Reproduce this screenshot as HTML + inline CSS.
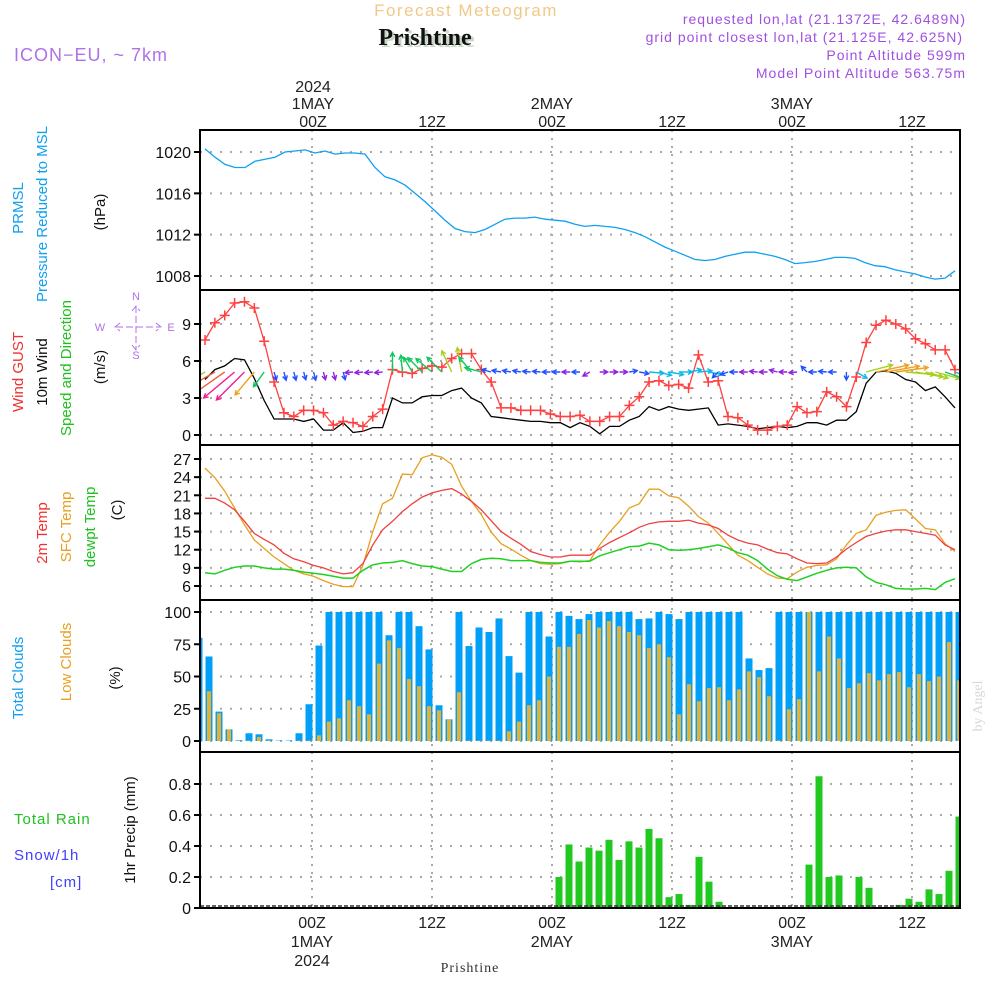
<!DOCTYPE html>
<html><head><meta charset="utf-8"><style>
html,body{margin:0;padding:0;background:#fff;}
svg{display:block;font-family:"Liberation Sans",sans-serif;}
</style></head><body>
<svg id="chart" width="1000" height="1000" viewBox="0 0 1000 1000" xmlns="http://www.w3.org/2000/svg">
<text x="466" y="16" text-anchor="middle" font-size="17" fill="#f2c888" letter-spacing="1.5">Forecast Meteogram</text>
<text x="428" y="47" text-anchor="middle" font-size="24" font-weight="bold" font-family="Liberation Serif,serif" fill="#c8d8c8">Prishtine</text>
<text x="425" y="45" text-anchor="middle" font-size="24" font-weight="bold" font-family="Liberation Serif,serif" fill="#111">Prishtine</text>
<text x="14" y="61" font-size="18" fill="#b070e8" letter-spacing="1">ICON−EU, ~ 7km</text>
<g font-size="14" fill="#a050e0" text-anchor="end" letter-spacing="1">
<text x="966" y="24">requested lon,lat (21.1372E, 42.6489N)</text>
<text x="963" y="42">grid point closest lon,lat (21.125E, 42.625N)</text>
<text x="966" y="60">Point Altitude 599m</text>
<text x="966" y="78">Model Point Altitude 563.75m</text>
</g>
<g font-size="16" fill="#222" text-anchor="middle">
<text x="313" y="92">2024</text><text x="313" y="109">1MAY</text><text x="313" y="127">00Z</text>
<text x="432" y="127">12Z</text>
<text x="552" y="109">2MAY</text><text x="552" y="127">00Z</text>
<text x="672" y="127">12Z</text>
<text x="792" y="109">3MAY</text><text x="792" y="127">00Z</text>
<text x="912" y="127">12Z</text>
</g>
<g font-size="16" fill="#222" text-anchor="middle">
<text x="312" y="928">00Z</text><text x="432" y="928">12Z</text><text x="552" y="928">00Z</text><text x="672" y="928">12Z</text><text x="792" y="928">00Z</text><text x="912" y="928">12Z</text>
<text x="312" y="947">1MAY</text><text x="552" y="947">2MAY</text><text x="792" y="947">3MAY</text>
<text x="312" y="966">2024</text>
</g>
<text x="470" y="972" text-anchor="middle" font-size="14" font-family="Liberation Serif,serif" fill="#333" letter-spacing="1">Prishtine</text>
<text transform="translate(982,706) rotate(-90)" text-anchor="middle" font-size="14" font-family="Liberation Serif,serif" fill="#d8d8d8">by Angel</text>

<g font-size="15" text-anchor="middle">
<text transform="translate(23,208) rotate(-90)" fill="#10a0f0">PRMSL</text>
<text transform="translate(47,214) rotate(-90)" fill="#10a0f0">Pressure Reduced to MSL</text>
<text transform="translate(105,212) rotate(-90)" fill="#111">(hPa)</text>
<text transform="translate(23,372) rotate(-90)" fill="#f03030">Wind GUST</text>
<text transform="translate(47,372) rotate(-90)" fill="#111">10m Wind</text>
<text transform="translate(71,368) rotate(-90)" fill="#20c020">Speed and Direction</text>
<text transform="translate(105,367) rotate(-90)" fill="#111">(m/s)</text>
<text transform="translate(47,533) rotate(-90)" fill="#f03030">2m Temp</text>
<text transform="translate(71,527) rotate(-90)" fill="#e8a020">SFC Temp</text>
<text transform="translate(95,527) rotate(-90)" fill="#20c020">dewpt Temp</text>
<text transform="translate(122,510) rotate(-90)" fill="#111">(C)</text>
<text transform="translate(23,678) rotate(-90)" fill="#10a0f0">Total Clouds</text>
<text transform="translate(71,662) rotate(-90)" fill="#e8a020">Low Clouds</text>
<text transform="translate(120,678) rotate(-90)" fill="#111">(%)</text>
<text transform="translate(135,830) rotate(-90)" fill="#111">1hr Precip (mm)</text>
<text x="14" y="824" text-anchor="start" fill="#20c020" letter-spacing="1">Total  Rain</text>
<text x="14" y="860" text-anchor="start" fill="#4040ff" letter-spacing="1">Snow/1h</text>
<text x="50" y="887" text-anchor="start" fill="#4040ff" letter-spacing="1">[cm]</text>
</g>
<g font-size="11" fill="#b070e8" text-anchor="middle">
<text x="136" y="300">N</text><text x="136" y="359">S</text><text x="100" y="331">W</text><text x="171" y="331">E</text>
<path d="M116 327 L160 327 M120 323 L115 327 L120 331 M156 323 L161 327 L156 331 M136 306 L136 350 M132 311 L136 306 L140 311 M132 345 L136 350 L140 345" stroke="#b070e8" stroke-width="1" fill="none" stroke-dasharray="7,3"/>
</g>
<g id="grid"></g>
<g id="marks"></g>
<g id="frames"></g>
</svg>
<script>
const pressure=[1020.3,1019.5,1018.8,1018.5,1018.5,1019.1,1019.3,1019.5,1020.0,1020.1,1020.2,1019.9,1020.1,1019.8,1019.9,1019.9,1019.8,1018.5,1017.6,1017.3,1016.8,1016.0,1015.2,1014.3,1013.4,1012.6,1012.3,1012.2,1012.5,1013.0,1013.5,1013.6,1013.6,1013.7,1013.5,1013.4,1013.3,1013.0,1012.8,1012.9,1012.8,1012.7,1012.5,1012.2,1011.8,1011.3,1010.8,1010.4,1010.0,1009.6,1009.5,1009.6,1009.9,1010.1,1010.3,1010.3,1010.1,1009.9,1009.6,1009.2,1009.3,1009.4,1009.6,1009.8,1009.8,1009.7,1009.3,1009.0,1008.9,1008.6,1008.4,1008.2,1007.9,1007.7,1007.8,1008.5];
const gust=[7.7,9.1,9.7,10.7,10.8,10.3,7.6,4.3,1.8,1.5,2.0,2.0,1.8,0.8,1.1,1.0,0.7,1.5,2.1,5.3,5.1,5.0,5.4,5.6,5.5,6.2,6.6,6.6,5.3,4.3,2.2,2.2,2.0,2.0,2.0,1.7,1.5,1.5,1.6,1.1,1.1,1.5,1.5,2.4,3.1,4.3,4.4,4.0,4.1,3.8,6.5,4.3,4.4,1.5,1.4,0.8,0.4,0.4,0.7,0.8,2.3,1.8,1.9,3.5,3.1,2.3,4.7,7.5,8.9,9.3,9.0,8.6,7.8,7.4,6.9,6.9,5.3];
const windSpeed=[4.5,5.3,5.6,6.2,6.1,4.6,2.8,1.3,1.3,1.3,1.1,1.3,0.4,0.4,1.0,0.2,0.3,0.6,0.6,3.0,2.6,2.6,3.1,3.2,3.2,3.6,3.8,3.0,2.6,1.5,1.4,1.3,1.2,1.1,1.1,1.0,1.0,0.6,1.0,0.7,0.1,0.7,0.7,1.2,1.5,2.3,2.0,2.3,2.1,2.0,2.1,2.2,0.8,0.9,0.8,0.7,0.5,0.6,0.7,0.6,0.7,1.0,1.0,0.8,1.2,1.2,1.9,4.2,5.1,5.2,5.0,4.5,4.3,3.6,3.9,3.1,2.2];
const windArrowAngle=[210,210,215,220,225,230,234,285,285,285,285,285,285,285,285,185,185,185,185,90,95,120,135,140,135,115,100,130,165,165,170,170,170,175,175,180,180,180,180,210,0,0,0,10,350,355,345,350,0,10,5,350,225,200,180,180,175,180,165,180,185,135,180,175,180,270,330,15,12,10,8,355,350,345,345,340,340];
const temp2m=[20.5,20.5,19.7,18.6,16.7,14.7,13.7,12.8,11.4,10.5,10.0,9.4,9.0,8.4,8.0,8.2,9.7,12.8,15.3,16.7,18.3,19.6,20.7,21.4,21.8,22.1,21.2,20.0,18.6,16.8,15.0,13.9,12.9,11.7,11.2,10.8,10.8,11.1,11.1,11.1,12.2,13.2,14.0,14.8,15.7,16.3,16.6,16.7,16.7,16.9,16.4,16.1,15.5,14.4,13.6,13.1,12.8,12.1,11.5,11.3,10.5,9.8,9.7,9.8,10.8,12.1,13.2,14.2,14.7,15.1,15.3,15.3,15.0,14.7,14.4,12.8,12.0];
const tempSfc=[25.5,23.9,21.7,18.9,16.1,13.6,12.2,10.8,9.7,8.6,8.0,7.6,6.9,6.3,5.9,5.9,9.4,15.0,19.6,20.5,24.5,24.4,27.2,27.7,27.3,26.1,22.5,20.0,17.8,14.9,13.0,12.1,11.1,10.2,9.7,9.6,9.7,10.1,10.0,10.2,12.8,14.9,16.7,18.9,19.6,22.0,22.0,20.9,20.6,19.2,17.5,16.4,14.7,12.9,11.1,10.2,9.1,8.0,7.3,7.2,8.3,9.1,9.4,9.5,10.5,12.8,14.7,15.3,17.7,18.2,18.5,18.6,17.1,15.5,15.3,13.0,11.7];
const tempDew=[8.2,8.0,8.6,9.1,9.3,9.3,9.0,8.8,8.8,8.6,8.3,8.1,7.9,7.6,7.3,7.3,8.6,9.5,9.8,9.9,10.2,9.7,9.3,9.2,8.8,8.4,8.4,9.7,10.4,10.6,10.5,10.2,10.2,10.2,9.9,9.8,9.8,10.1,10.1,10.1,11.0,11.5,12.0,12.5,12.6,13.1,12.8,12.0,11.9,12.0,12.2,12.5,12.8,12.3,11.5,11.1,10.2,8.8,7.7,7.1,6.9,7.5,8.1,8.6,9.0,9.1,9.0,7.5,6.6,6.2,5.6,5.5,5.5,5.6,5.4,6.6,7.2];
const totalClouds=[80,65.5,22.8,9,0.5,6,5.2,1.3,0.3,0.3,6,28.5,74,100,100,100,100,100,100,82,100,100,89,71,27.7,16.8,100,73.6,88,84.5,95,65.8,53,100,100,81,100,97,94.5,98.4,100,100,100,100,94.5,95,100,98.4,94.5,100,100,100,100,100,100,64,55,56.5,100,100,100,100,100,100,100,100,100,100,100,100,100,100,100,100,100,100,100];
const lowClouds=[68,38.6,21.5,9,0,0.3,3.1,0.5,0,0,0.3,0.3,4.4,15,17.6,31.6,27,20.7,60,78,72,48,42.5,27,23.8,16.8,37.8,0.3,0.3,0.3,0.3,7.5,15,27.7,31.6,50,73,73,83,93.8,88,93,89,84.5,82,72,75,65,20.7,44,30.8,41,41.7,31.6,40,54,49.5,34.7,0.5,24.6,32.4,100,54,81,64,41,44.8,52.6,47,51.8,53.4,41.7,51.8,46.4,50,76.7,47];
const precip=[0,0,0,0,0,0,0,0,0,0,0,0,0,0,0,0,0,0,0,0,0,0,0,0,0,0,0,0,0,0,0,0,0,0,0,0,0.2,0.41,0.30,0.39,0.37,0.44,0.31,0.43,0.39,0.51,0.45,0.07,0.09,0.02,0.33,0.17,0.04,0,0,0,0,0,0,0,0,0.28,0.85,0.2,0.21,0,0.2,0.13,0,0,0.02,0.06,0.04,0.12,0.09,0.24,0.59];
const pTicks=[1008,1012,1016,1020];
const wTicks=[0,3,6,9];
const tTicks=[6,9,12,15,18,21,24,27];
const cTicks=[0,25,50,75,100];
const rTicks=[0,0.2,0.4,0.6,0.8];
const timeGrid=[0,12,24,36,48,60];

const NS="http://www.w3.org/2000/svg";
const X0=200,X1=960;
function mk(tag,attrs,parent){const e=document.createElementNS(NS,tag);for(const k in attrs)e.setAttribute(k,attrs[k]);parent.appendChild(e);return e;}
function lin(d0,d1,r0,r1){return v=>r0+(v-d0)*(r1-r0)/(d1-d0);}
function lineX(i,n){return 205+750*i/(n-1);}
function barX(i){return 199+10*i;}
const hourX=h=>312+10*h;
const yP=lin(1008,1020,276,152), yW=lin(0,9,435,324), yT=lin(6,27,586,459), yC=lin(0,100,741,612), yR=lin(0,0.8,908,784);
const panels=[{top:130,bot:290,y:yP,ticks:pTicks,fmt:v=>v,name:'pressure'},{top:290,bot:445,y:yW,ticks:wTicks,fmt:v=>v,name:'wind'},{top:445,bot:600,y:yT,ticks:tTicks,fmt:v=>v,name:'temp'},{top:600,bot:752,y:yC,ticks:cTicks,fmt:v=>v,name:'clouds'},{top:752,bot:908,y:yR,ticks:rTicks,fmt:v=>v===0?'0':v.toFixed(1),name:'precip'}];
const grid=document.getElementById('grid'),marks=document.getElementById('marks'),frames=document.getElementById('frames');
panels.forEach(p=>{
  timeGrid.forEach(h=>{const l=mk('line',{x1:hourX(h),x2:hourX(h),y1:p.top,y2:p.bot,stroke:'#aaa','stroke-width':2,'stroke-dasharray':'2,6'},grid);
    
    });
  p.ticks.forEach(v=>{const y=p.y(v);
    const g=mk('line',{x1:X0,x2:X1,y1:y,y2:y,stroke:'#aaa','stroke-width':2,'stroke-dasharray':'2,8'},grid);
    
    
    mk('line',{x1:X0-6,x2:X0,y1:y,y2:y,stroke:'#000','stroke-width':2},frames);
    const t=mk('text',{x:X0-9,y:y+6,'text-anchor':'end','font-size':16,fill:'#111'},frames);t.textContent=p.fmt(v);
    
    });
  const r=mk('rect',{x:X0,y:p.top,width:X1-X0,height:p.bot-p.top,fill:'none',stroke:'#000','stroke-width':2},frames);
  
  
});
function poly(arr,yf,color,name,w){const pts=arr.map((v,i)=>lineX(i,arr.length).toFixed(1)+','+yf(v).toFixed(1)).join(' ');
  const e=mk('polyline',{points:pts,fill:'none',stroke:color,'stroke-width':w||1.5},marks);
  
  return e;}
const clip=mk('clipPath',{id:'plotclip'},marks);mk('rect',{x:X0,y:0,width:X1-X0,height:1000},clip);
const cg=mk('g',{'clip-path':'url(#plotclip)'},marks);
totalClouds.forEach((v,i)=>{const b=mk('rect',{x:barX(i)-3.5,y:yC(v),width:7,height:yC(0)-yC(v),fill:'#00a0f8'},cg);
  
  });
lowClouds.forEach((v,i)=>{const b=mk('rect',{x:barX(i)-2,y:yC(v),width:4,height:yC(0)-yC(v),fill:'#e8b030'},cg);
  
  });
precip.forEach((v,i)=>{if(v<=0)return;const b=mk('rect',{x:barX(i)-3.5,y:yR(v),width:7,height:yR(0)-yR(v),fill:'#20c820'},cg);
  
  });
const zl=mk('line',{x1:X0,x2:X1,y1:906,y2:906,stroke:'#333','stroke-width':1.5,'stroke-dasharray':'4,2'},marks);


poly(pressure,yP,'#10a0f0','pressure-line',1.3);
poly(tempSfc,yT,'#e8a020','sfc-temp-line',1.3);
poly(temp2m,yT,'#f04040','temp-2m-line',1.3);
poly(tempDew,yT,'#20d020','dewpoint-line',1.5);
poly(windSpeed,yW,'#000','wind-speed-line',1.3);
poly(gust,yW,'#ff4040','gust-line',1.3);
gust.forEach((v,i)=>{const x=lineX(i,gust.length),y=yW(v);
  const m=mk('path',{d:`M${x-5} ${y}L${x+5} ${y}M${x} ${y-5}L${x} ${y+5}`,stroke:'#ff4040','stroke-width':1.5},marks);
  
  });
function arrowColor(s){if(s<0.8)return '#9020e0';if(s<1.6)return '#2050ff';if(s<2.5)return '#10b8e8';if(s<3.5)return '#10c860';if(s<4.6)return '#a8d020';if(s<5.3)return '#f0a020';if(s<5.8)return '#f06040';return '#f02090';}
const ag=mk('g',{'clip-path':'url(#plotclip)'},marks);
windArrowAngle.forEach((a,i)=>{const s=windSpeed[i];const L=Math.max(8,s*6.5);const x=lineX(i,windArrowAngle.length),y=372;
  const r=a*Math.PI/180;const x2=x+L*Math.cos(r),y2=y-L*Math.sin(r);
  const h=5,r1=r+Math.PI-0.5,r2=r+Math.PI+0.5;
  const d=`M${x.toFixed(1)} ${y}L${x2.toFixed(1)} ${y2.toFixed(1)}M${(x2+h*Math.cos(r1)).toFixed(1)} ${(y2-h*Math.sin(r1)).toFixed(1)}L${x2.toFixed(1)} ${y2.toFixed(1)}L${(x2+h*Math.cos(r2)).toFixed(1)} ${(y2-h*Math.sin(r2)).toFixed(1)}`;
  const e=mk('path',{d:d,stroke:arrowColor(s),'stroke-width':1.4,fill:'none'},ag);
  
  });
</script>
</body></html>
